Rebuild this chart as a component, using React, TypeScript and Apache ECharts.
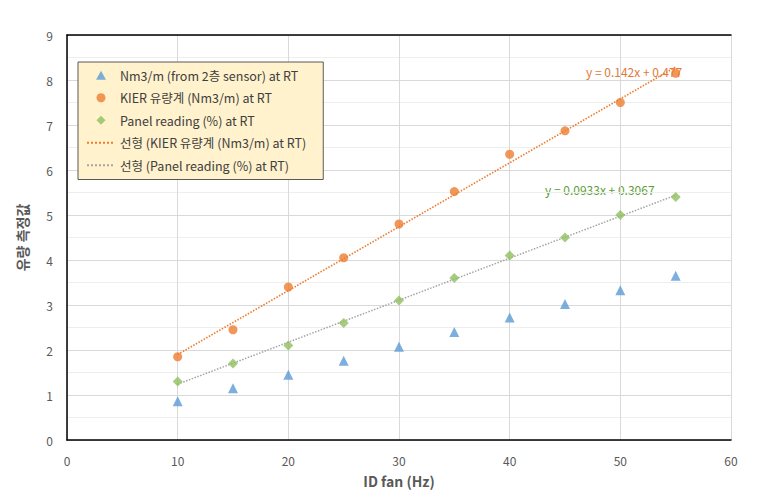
import React, { useEffect, useRef } from "react";
import * as echarts from "echarts";

const fanHz = [10, 15, 20, 25, 30, 35, 40, 45, 50, 55];
const sensorFlow = [0.86, 1.15, 1.45, 1.76, 2.07, 2.4, 2.72, 3.02, 3.33, 3.65];
const kierFlow = [1.85, 2.45, 3.4, 4.05, 4.8, 5.52, 6.35, 6.87, 7.5, 8.15];
const panelReading = [1.3, 1.7, 2.1, 2.6, 3.1, 3.6, 4.1, 4.5, 5.0, 5.4];
const kierTrend = [
  [10, 1.9],
  [55, 8.29],
];
const panelTrend = [
  [10, 1.24],
  [55, 5.44],
];
const seriesNames = [
  "Nm3/m (from 2층 sensor) at RT",
  "KIER 유량계 (Nm3/m) at RT",
  "Panel reading (%) at RT",
  "선형 (KIER 유량계 (Nm3/m) at RT)",
  "선형 (Panel reading (%) at RT)",
];
const kierEquation = "y = 0.142x + 0.477";
const panelEquation = "y = 0.0933x + 0.3067";

const FONT = "'Noto Sans CJK KR', 'Noto Sans', sans-serif";

export default function App() {
  const ref = useRef<HTMLDivElement>(null);
  useEffect(() => {
    if (!ref.current) return;
    const chart = echarts.init(ref.current, undefined, { renderer: "svg" });
    const pair = (ys: number[]) => fanHz.map((x, i) => [x, ys[i]]);
    chart.setOption({
      animation: false,
      textStyle: { fontFamily: FONT },
      grid: { left: 67, right: 50, top: 35, bottom: 61 },
      xAxis: [
        {
          type: "value",
          min: 0,
          max: 60,
          interval: 10,
          name: "ID fan (Hz)",
          nameLocation: "middle",
          nameGap: 34,
          nameTextStyle: { fontSize: 14, fontWeight: "bold", color: "#595959", fontFamily: FONT },
          axisLine: { show: true, lineStyle: { color: "#000", width: 1.5 } },
          axisTick: { show: false },
          axisLabel: { color: "#595959", fontSize: 12, margin: 14, fontFamily: FONT },
          splitLine: { show: true, lineStyle: { color: "#d9d9d9", width: 1 } },
        },
        {
          type: "value",
          position: "top",
          min: 0,
          max: 60,
          interval: 10,
          axisLine: { show: true, onZero: false, lineStyle: { color: "#000", width: 1.5 } },
          axisTick: { show: false },
          axisLabel: { show: false },
          splitLine: { show: false },
        },
      ],
      yAxis: {
        type: "value",
        min: 0,
        max: 9,
        interval: 1,
        name: "유량 측정값",
        nameLocation: "middle",
        nameGap: 38,
        nameTextStyle: { fontSize: 14, fontWeight: "bold", color: "#595959", fontFamily: FONT },
        axisLine: { show: true, lineStyle: { color: "#000", width: 1.5 } },
        axisTick: { show: false },
        axisLabel: { color: "#595959", fontSize: 12, margin: 14, fontFamily: FONT },
        splitLine: { show: true, lineStyle: { color: "#d9d9d9", width: 1 } },
        minorTick: { show: false, splitNumber: 2 },
        minorSplitLine: { show: true, lineStyle: { color: "#eeeeee", width: 1 } },
      },
      legend: {
        orient: "vertical",
        left: 78,
        top: 62,
        backgroundColor: "#FFF2CC",
        borderColor: "#595959",
        borderWidth: 1,
        borderRadius: 0,
        padding: [7, 17, 8, 8],
        itemGap: 10,
        itemWidth: 28,
        itemHeight: 9,
        symbolKeepAspect: true,
        textStyle: { fontSize: 12.5, color: "#404040", fontFamily: FONT },
        data: [
          { name: seriesNames[0], icon: "path://M5,0L10,9L0,9Z" },
          { name: seriesNames[1], icon: "circle" },
          { name: seriesNames[2], icon: "path://M5,0L10,5L5,10L0,5Z" },
          { name: seriesNames[3], itemStyle: { opacity: 0 } },
          { name: seriesNames[4], itemStyle: { opacity: 0 } },
        ],
      },
      series: [
        {
          name: seriesNames[3],
          type: "line",
          data: kierTrend,
          symbol: "none",
          z: 1,
          lineStyle: { color: "#ED7D31", width: 1.5, type: "dotted" },
          itemStyle: { color: "#ED7D31" },
        },
        {
          name: seriesNames[4],
          type: "line",
          data: panelTrend,
          symbol: "none",
          z: 1,
          lineStyle: { color: "#A5A5A5", width: 1.5, type: "dotted" },
          itemStyle: { color: "#A5A5A5" },
        },
        {
          name: seriesNames[0],
          type: "scatter",
          data: pair(sensorFlow),
          symbol: "triangle",
          symbolSize: 10,
          z: 3,
          itemStyle: { color: "#5B9BD5" },
        },
        {
          name: seriesNames[1],
          type: "scatter",
          data: pair(kierFlow),
          symbol: "circle",
          symbolSize: 9,
          z: 3,
          itemStyle: { color: "#ED7D31" },
        },
        {
          name: seriesNames[2],
          type: "scatter",
          data: pair(panelReading),
          symbol: "diamond",
          symbolSize: 10,
          z: 3,
          itemStyle: { color: "#8FBF5F" },
        },
      ],
      graphic: [
        {
          type: "text",
          left: 586,
          top: 65,
          style: { text: kierEquation, fill: "#E07B39", fontSize: 12, fontFamily: FONT },
        },
        {
          type: "text",
          left: 545,
          top: 183,
          style: { text: panelEquation, fill: "#5E9E3A", fontSize: 12, fontFamily: FONT },
        },
      ],
    });
    return () => chart.dispose();
  }, []);
  return <div ref={ref} style={{ width: 781, height: 501, margin: -8 }} />;
}
